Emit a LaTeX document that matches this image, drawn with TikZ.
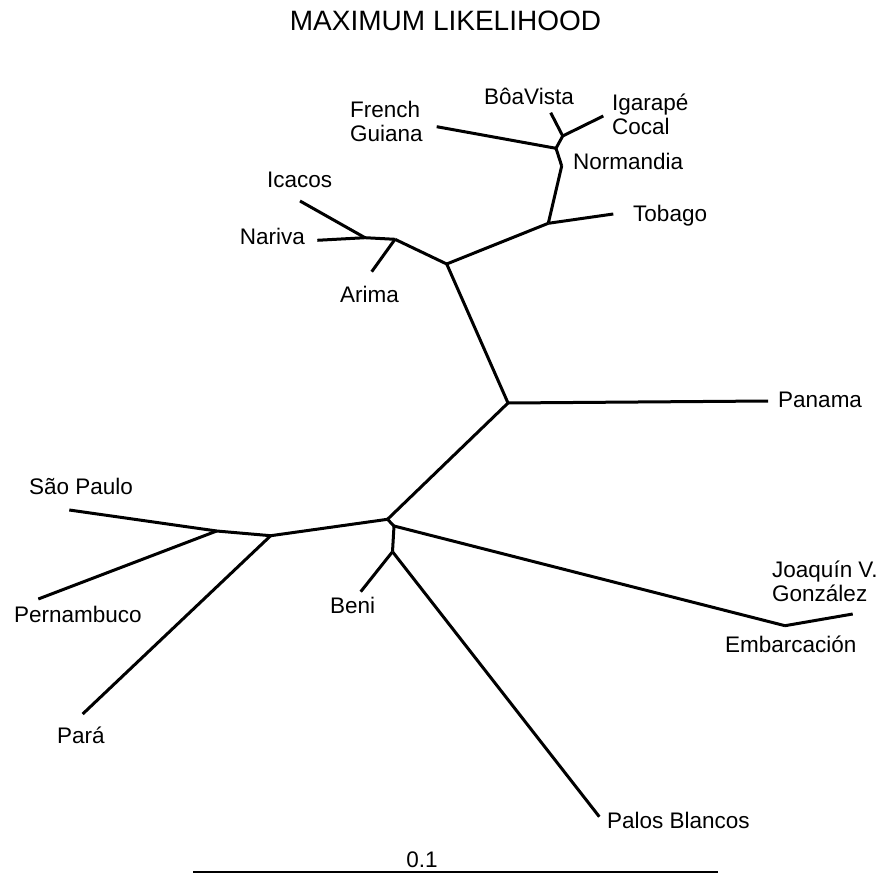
\documentclass[tikz,border=0pt]{standalone}
\usepackage{fontspec}
\setmainfont{Liberation Sans}
\begin{document}
\begin{tikzpicture}[x=1pt,y=-1pt,
  br/.style={line width=3pt,line join=round},
  lab/.style={font=\fontsize{22.5}{24}\selectfont,inner sep=0pt,align=left}]
\useasboundingbox (0,0) rectangle (888,874);
\node[font=\fontsize{28}{30}\selectfont,anchor=base,inner sep=0pt] (title) at (445.5,31) {MAXIMUM LIKELIHOOD};
% inner nodes
\coordinate (top) at (446.7,264);
\coordinate (arj) at (395,239.3);
\coordinate (icj) at (365,237.7);
\coordinate (tobj) at (548.3,223.3);
\coordinate (nork) at (561.7,166);
\coordinate (fgj) at (556,148.3);
\coordinate (bvj) at (562.7,136);
\coordinate (panj) at (508,403);
\coordinate (lowj) at (387.5,519.3);
\coordinate (paj) at (270.7,535.7);
\coordinate (spj) at (216.7,531);
\coordinate (embs) at (394,526);
\coordinate (embj) at (785,625.7);
\coordinate (benj) at (392.5,551.7);
% tips
\coordinate (tIc) at (300,201);
\coordinate (tNa) at (317.3,240.3);
\coordinate (tAr) at (371.7,271.7);
\coordinate (tTo) at (613.3,214);
\coordinate (tFG) at (436.7,126.7);
\coordinate (tBV) at (550.7,112.7);
\coordinate (tIg) at (603.3,116);
\coordinate (tPa) at (768,401);
\coordinate (tSP) at (69.3,510);
\coordinate (tPe) at (38.3,599);
\coordinate (tPr) at (82.7,714);
\coordinate (tJV) at (852.7,614);
\coordinate (tBe) at (360.7,591.7);
\coordinate (tPB) at (599.3,816.7);
\foreach \a/\b in {top/arj,arj/icj,icj/tIc,icj/tNa,arj/tAr,top/tobj,tobj/tTo,tobj/nork,nork/fgj,fgj/tFG,fgj/bvj,bvj/tBV,bvj/tIg,
  top/panj,panj/tPa,panj/lowj,lowj/paj,paj/spj,spj/tSP,spj/tPe,paj/tPr,lowj/embs,embs/embj,embj/tJV,embs/benj,benj/tBe,benj/tPB}
  {\draw[br] (\a)--(\b);}
% labels (two-line ones sit on their last line)
\node[lab,anchor=base west] (FrenchGuiana) at (350,142) {French\\Guiana};
\node[lab,anchor=base west] (BoaVista) at (484,105) {BôaVista};
\node[lab,anchor=base west] (Igarape) at (612,135) {Igarapé\\Cocal};
\node[lab,anchor=base west] (Normandia) at (573,170) {Normandia};
\node[lab,anchor=base west] (Tobago) at (633,222) {Tobago};
\node[lab,anchor=base west] (Icacos) at (267,188) {Icacos};
\node[lab,anchor=base east] (Nariva) at (305,245) {Nariva};
\node[lab,anchor=base west] (Arima) at (340,302) {Arima};
\node[lab,anchor=base west] (Panama) at (778,407) {Panama};
\node[lab,anchor=base west] (SaoPaulo) at (29,494) {São Paulo};
\node[lab,anchor=base west] (Pernambuco) at (14,622) {Pernambuco};
\node[lab,anchor=base west] (Para) at (57,743) {Pará};
\node[lab,anchor=base west] (Beni) at (330,613) {Beni};
\node[lab,anchor=base west] (Joaquin) at (772,601) {Joaquín V.\\González};
\node[lab,anchor=base west] (Embarcacion) at (725,652) {Embarcación};
\node[lab,anchor=base west] (PalosBlancos) at (607,828) {Palos Blancos};
% scale bar
\coordinate (s0) at (193,872);
\coordinate (s1) at (718,872);
\draw[line width=1.4pt] (s0)--(s1);
\node[lab,anchor=base] (scale) at (422,867) {0.1};
\end{tikzpicture}
\end{document}
